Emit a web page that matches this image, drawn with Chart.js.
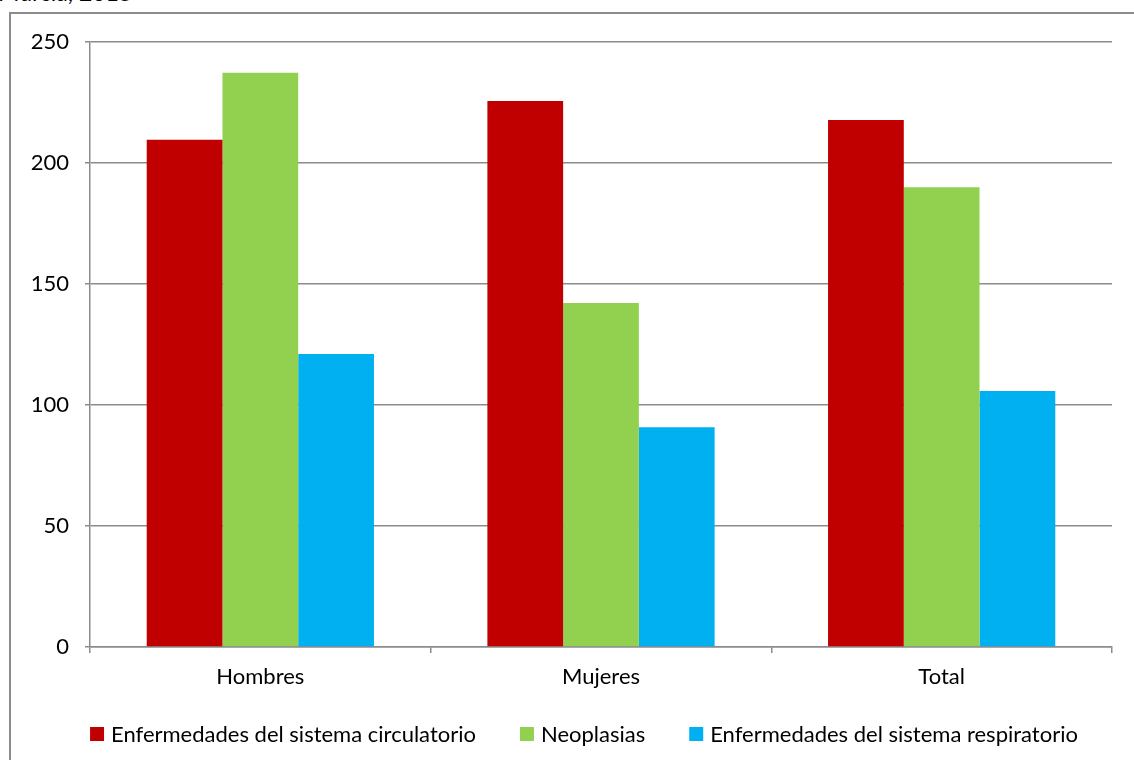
<!DOCTYPE html>
<html lang="es">
<head>
<meta charset="utf-8">
<title>Mortalidad por grandes grupos de causas, Murcia 2015</title>
<script src="https://cdn.jsdelivr.net/npm/chart.js@4/dist/chart.umd.min.js"></script>
<style>
  html, body { margin: 0; padding: 0; background: #fff; }
  #wrap { position: relative; width: 1134px; height: 760px; overflow: hidden; }
  #frame {
    position: absolute; left: 9px; top: 12px; width: 1200px; height: 800px;
    border-left: 2px solid #8c8c8c; border-top: 2px solid #8c8c8c;
  }
  #heading { position: absolute; left: -2px; top: -22px; font: 23px Lato, sans-serif; color: #000; white-space: nowrap; }
  canvas { position: absolute; left: 0; top: 0; }
</style>
</head>
<body>
<div id="wrap">
  <div id="heading">Murcia, 2015</div>
  <div id="frame"></div>
  <canvas id="chart" width="1134" height="760"></canvas>
</div>
<script>
// Tasas por grupo de causa y sexo
const categories = ['Hombres', 'Mujeres', 'Total'];
const seriesNames = [
  'Enfermedades del sistema circulatorio',
  'Neoplasias',
  'Enfermedades del sistema respiratorio'
];
const circulatorio = [209.6, 225.6, 217.8];
const neoplasias = [237.3, 142.1, 190.0];
const respiratorio = [121.1, 90.8, 105.8];
const yMin = 0;
const yMax = 250;
const yStep = 50;

const COLORS = ['#c00000', '#92d050', '#00b0f0'];
const FONT_FAMILY = "Lato, 'Open Sans', sans-serif";
const FONT_SIZE = 22;
const GRID = '#8c8c8c';

// legend drawn under the axis, centred on the outer frame
const bottomLegend = {
  id: 'bottomLegend',
  afterDraw(chart) {
    const ctx = chart.ctx;
    const box = 14, textGap = 7, itemGap = 44;
    ctx.save();
    ctx.font = FONT_SIZE + 'px ' + FONT_FAMILY;
    ctx.textBaseline = 'middle';
    const items = chart.data.datasets.map(ds => ({
      label: ds.label,
      color: ds.backgroundColor,
      w: box + textGap + ctx.measureText(ds.label).width
    }));
    const total = items.reduce((s, it) => s + it.w, 0) + itemGap * (items.length - 1);
    let x = 584 - total / 2;
    const y = 734;
    items.forEach(it => {
      ctx.fillStyle = it.color;
      ctx.fillRect(x, y - 7, box, box);
      ctx.fillStyle = '#000';
      ctx.fillText(it.label, x + box + textGap, y + 1);
      x += it.w + itemGap;
    });
    ctx.restore();
  }
};

new Chart(document.getElementById('chart'), {
  type: 'bar',
  data: {
    labels: categories,
    datasets: [
      { label: seriesNames[0], data: circulatorio, backgroundColor: COLORS[0] },
      { label: seriesNames[1], data: neoplasias, backgroundColor: COLORS[1] },
      { label: seriesNames[2], data: respiratorio, backgroundColor: COLORS[2] }
    ]
  },
  options: {
    responsive: false,
    animation: false,
    devicePixelRatio: 1,
    categoryPercentage: 0.667,
    barPercentage: 1.0,
    layout: { padding: { left: 0, right: 22, top: 42, bottom: 63 } },
    plugins: {
      legend: { display: false },
      tooltip: { enabled: false }
    },
    scales: {
      x: {
        afterFit: (scale) => { scale.height = 50; },
        grid: {
          drawOnChartArea: false,
          drawTicks: true,
          tickLength: 6,
          color: GRID,
          lineWidth: 1.5
        },
        border: { display: true, color: GRID, width: 1.5 },
        ticks: {
          color: '#000',
          padding: 11,
          font: { size: FONT_SIZE, family: FONT_FAMILY }
        }
      },
      y: {
        min: yMin,
        max: yMax,
        afterFit: (scale) => { scale.width = 90; },
        grid: {
          color: GRID,
          lineWidth: 1.5,
          tickLength: 5
        },
        border: { display: true, color: GRID, width: 1.5 },
        ticks: {
          stepSize: yStep,
          color: '#000',
          padding: 16,
          font: { size: FONT_SIZE, family: FONT_FAMILY }
        }
      }
    }
  },
  plugins: [bottomLegend]
});
</script>
</body>
</html>
